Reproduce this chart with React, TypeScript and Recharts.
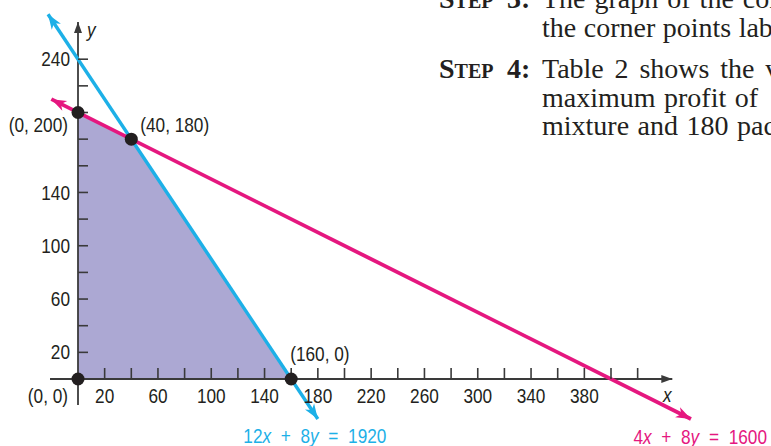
import React from 'react';
import { ComposedChart, XAxis, YAxis, Line, Area, Scatter } from 'recharts';

// ---------- data ----------
// feasible region boundary (upper edge, filled down to y = 0)
const regionX = [0, 40, 160];
const regionY = [200, 180, 0];

// constraint 12x + 8y = 1920
const blueX = [-22.5, 180];
const blueY = [273.75, -30];
const blueLabel = '12x + 8y = 1920';

// constraint 4x + 8y = 1600
const pinkX = [-20, 460];
const pinkY = [210, -30];
const pinkLabel = '4x + 8y = 1600';

// coordinate axes
const xAxisX = [-21, 446];
const xAxisY = [0, 0];
const yAxisX = [0, 0];
const yAxisY = [-19.5, 268];

// ticks
const xTickValues = [20, 40, 60, 80, 100, 120, 140, 160, 180, 200, 220, 240, 260, 280, 300, 320, 340, 360, 380, 400, 420];
const xTickLabels = [20, 60, 100, 140, 180, 220, 260, 300, 340, 380];
const yTickValues = [20, 40, 60, 80, 100, 120, 140, 160, 180, 200, 220, 240];
const yTickLabels = [20, 60, 100, 140, 240];

// corner points
const cornerX = [0, 40, 160, 0];
const cornerY = [200, 180, 0, 0];
const cornerLabels = ['(0, 200)', '(40, 180)', '(160, 0)', '(0, 0)'];

// text block
const paraLines = [
  { head: 'Step', num: '3:', body: 'The graph of the cor' },
  { head: '', num: '', body: 'the corner points lab' },
  { head: 'Step', num: '4:', body: 'Table 2 shows the v' },
  { head: '', num: '', body: 'maximum profit of' },
  { head: '', num: '', body: 'mixture and 180 pac' },
];

// ---------- layout / style ----------
const W = 771;
const H = 446;
const UNIT_PX = 1.3325;
const ORIGIN_PX_X = 78;
const ORIGIN_PX_Y = 379;
const X_DOMAIN: [number, number] = [-ORIGIN_PX_X / UNIT_PX, (W - ORIGIN_PX_X) / UNIT_PX];
const Y_DOMAIN: [number, number] = [-(H - ORIGIN_PX_Y) / UNIT_PX, ORIGIN_PX_Y / UNIT_PX];

const SANS = "'Liberation Sans', Arial, Helvetica, sans-serif";
const NARROW = 0.82;
const SERIF = "'Liberation Serif', 'Times New Roman', serif";
const AXIS = '#3a3a3a';
const INK = '#231f20';
const BLUE = '#1db0e7';
const PINK = '#e5177f';
const REGION = '#aca8d3';
const LABEL_SIZE = 21;

const zip = (xs: number[], ys: number[]) => xs.map((x, i) => ({ x, y: ys[i] }));

const regionData = zip(regionX, regionY);
const blueData = zip(blueX, blueY);
const pinkData = zip(pinkX, pinkY);
const xAxisData = zip(xAxisX, xAxisY);
const yAxisData = zip(yAxisX, yAxisY);
const xTickData = xTickValues.map((v) => ({ x: v, y: 0, label: xTickLabels.includes(v) ? String(v) : '' }));
const yTickData = yTickValues.map((v) => ({ x: 0, y: v, label: yTickLabels.includes(v) ? String(v) : '' }));
const cornerData = cornerX.map((x, i) => ({ x, y: cornerY[i], label: cornerLabels[i] }));

type Anchor = 'start' | 'middle' | 'end';

const cornerPlacement: Record<string, { dx: number; dy: number; anchor: Anchor }> = {
  '(0, 200)': { dx: -10, dy: 12, anchor: 'end' },
  '(40, 180)': { dx: 9, dy: -14, anchor: 'start' },
  '(160, 0)': { dx: -1, dy: -25, anchor: 'start' },
  '(0, 0)': { dx: -10, dy: 17, anchor: 'end' },
};

function NText(props: {
  x: number;
  y: number;
  anchor: Anchor;
  fill: string;
  size: number;
  wordSpacing?: number;
  children: React.ReactNode;
}) {
  return (
    <text
      transform={`translate(${props.x},${props.y}) scale(${NARROW},1)`}
      x={0}
      y={0}
      textAnchor={props.anchor}
      dominantBaseline="central"
      fill={props.fill}
      fontFamily={SANS}
      fontSize={props.size}
      style={{ whiteSpace: 'pre', wordSpacing: props.wordSpacing ?? 0 }}
    >
      {props.children}
    </text>
  );
}

function renderMath(text: string) {
  const parts = text.split(/([a-z])/).filter((p) => p !== '');
  return parts.map((p, i) =>
    /^[a-z]$/.test(p) ? (
      <tspan key={i} fontStyle="italic">{p}</tspan>
    ) : (
      <tspan key={i}>{p}</tspan>
    )
  );
}

type ArrowOpts = {
  color: string;
  len: number;
  half: number;
  notch: number;
  both: boolean;
  label?: { text: string; dx: number; dy: number; anchor: Anchor; color: string; size: number; wordSpacing?: number };
};

const arrowDot = (o: ArrowOpts) => (props: any) => {
  const { cx, cy, index, points } = props;
  const key = `arrow-${index}`;
  const n = points ? points.length : 0;
  if (n < 2) return <g key={key} />;
  let from: any;
  let to: any;
  let isEnd = false;
  if (index === n - 1) {
    from = points[n - 2];
    to = points[n - 1];
    isEnd = true;
  } else if (index === 0 && o.both) {
    from = points[1];
    to = points[0];
  } else {
    return <g key={key} />;
  }
  const dx = to.x - from.x;
  const dy = to.y - from.y;
  const L = Math.hypot(dx, dy) || 1;
  const ux = dx / L;
  const uy = dy / L;
  const px = -uy;
  const py = ux;
  const bx = cx - ux * o.len;
  const by = cy - uy * o.len;
  const nx = cx - ux * o.len * o.notch;
  const ny = cy - uy * o.len * o.notch;
  const pts = [
    [cx, cy],
    [bx + px * o.half, by + py * o.half],
    [nx, ny],
    [bx - px * o.half, by - py * o.half],
  ]
    .map((p) => `${p[0]},${p[1]}`)
    .join(' ');
  return (
    <g key={key}>
      <polygon points={pts} fill={o.color} stroke="none" />
      {isEnd && o.label ? (
        <NText
          x={cx + o.label.dx}
          y={cy + o.label.dy}
          anchor={o.label.anchor}
          fill={o.label.color}
          size={o.label.size}
          wordSpacing={o.label.wordSpacing}
        >
          {renderMath(o.label.text)}
        </NText>
      ) : null}
    </g>
  );
};

const xTickShape = (props: any) => {
  const { cx, cy, payload } = props;
  return (
    <g>
      <line x1={cx} y1={cy} x2={cx} y2={cy - 11} stroke={AXIS} strokeWidth={1.6} />
      {payload && payload.label ? (
        <NText x={cx} y={cy + 17} anchor="middle" fill={INK} size={LABEL_SIZE}>
          {payload.label}
        </NText>
      ) : null}
    </g>
  );
};

const yTickShape = (props: any) => {
  const { cx, cy, payload } = props;
  return (
    <g>
      <line x1={cx} y1={cy} x2={cx + 10} y2={cy} stroke={AXIS} strokeWidth={1.6} />
      {payload && payload.label ? (
        <NText x={cx - 8} y={cy} anchor="end" fill={INK} size={LABEL_SIZE}>
          {payload.label}
        </NText>
      ) : null}
    </g>
  );
};

const cornerShape = (props: any) => {
  const { cx, cy, payload } = props;
  const place = cornerPlacement[payload.label] || { dx: 8, dy: -12, anchor: 'start' as Anchor };
  return (
    <g>
      <circle cx={cx} cy={cy} r={6.5} fill={INK} />
      <NText x={cx + place.dx} y={cy + place.dy} anchor={place.anchor} fill={INK} size={LABEL_SIZE}>
        {payload.label}
      </NText>
    </g>
  );
};

export default function App() {
  return (
    <div style={{ position: 'fixed', left: 0, top: 0, width: W, height: H, overflow: 'hidden', background: '#fff' }}>
      <div style={{ position: 'absolute', left: 0, top: 0 }}>
        <ComposedChart width={W} height={H} margin={{ top: 0, right: 0, bottom: 0, left: 0 }}>
          <XAxis type="number" dataKey="x" domain={X_DOMAIN} allowDataOverflow hide />
          <YAxis type="number" dataKey="y" domain={Y_DOMAIN} allowDataOverflow hide />
          <Area
            data={regionData}
            dataKey="y"
            type="linear"
            baseValue={0}
            stroke="none"
            fill={REGION}
            fillOpacity={1}
            dot={false}
            activeDot={false}
            isAnimationActive={false}
          />
          <Line
            data={xAxisData}
            dataKey="y"
            type="linear"
            stroke={AXIS}
            strokeWidth={1.8}
            dot={arrowDot({ color: AXIS, len: 11, half: 4, notch: 1, both: false, label: { text: 'x', dx: -5, dy: 15, anchor: 'middle', color: INK, size: LABEL_SIZE } })}
            activeDot={false}
            isAnimationActive={false}
          />
          <Line
            data={yAxisData}
            dataKey="y"
            type="linear"
            stroke={AXIS}
            strokeWidth={1.8}
            dot={arrowDot({ color: AXIS, len: 11, half: 4, notch: 1, both: false, label: { text: 'y', dx: 9, dy: 7, anchor: 'start', color: INK, size: LABEL_SIZE } })}
            activeDot={false}
            isAnimationActive={false}
          />
          <Scatter data={xTickData} dataKey="y" shape={xTickShape} isAnimationActive={false} />
          <Scatter data={yTickData} dataKey="y" shape={yTickShape} isAnimationActive={false} />
          <Line
            data={blueData}
            dataKey="y"
            type="linear"
            stroke={BLUE}
            strokeWidth={3.4}
            dot={arrowDot({ color: BLUE, len: 15, half: 5.5, notch: 0.72, both: true, label: { text: blueLabel, dx: -3, dy: 16, anchor: 'middle', color: BLUE, size: 21, wordSpacing: 6 } })}
            activeDot={false}
            isAnimationActive={false}
          />
          <Line
            data={pinkData}
            dataKey="y"
            type="linear"
            stroke={PINK}
            strokeWidth={3.8}
            dot={arrowDot({ color: PINK, len: 15, half: 5.5, notch: 0.72, both: true, label: { text: pinkLabel, dx: 76, dy: 17, anchor: 'end', color: PINK, size: 21, wordSpacing: 6 } })}
            activeDot={false}
            isAnimationActive={false}
          />
          <Scatter data={cornerData} dataKey="y" shape={cornerShape} isAnimationActive={false} />
        </ComposedChart>
      </div>
      <svg width={W} height={H} style={{ position: 'absolute', left: 0, top: 0, pointerEvents: 'none' }}>
        <g fill={INK} fontFamily={SERIF} fontSize={28}>
          {paraLines.map((ln, i) => {
            const base = [8, 37, 78, 107, 135][i];
            const ws = [2, 0.5, 3.8, 1.5, 1.5][i];
            return (
              <g key={i}>
                {ln.head ? (
                  <text x={439} y={base} fontWeight="bold" style={{ fontVariant: 'small-caps' }}>
                    {ln.head}
                  </text>
                ) : null}
                {ln.num ? (
                  <text x={507} y={base} fontWeight="bold">
                    {ln.num}
                  </text>
                ) : null}
                <text x={542} y={base} style={{ whiteSpace: 'pre', wordSpacing: ws }}>
                  {ln.body}
                </text>
              </g>
            );
          })}
        </g>
      </svg>
    </div>
  );
}
